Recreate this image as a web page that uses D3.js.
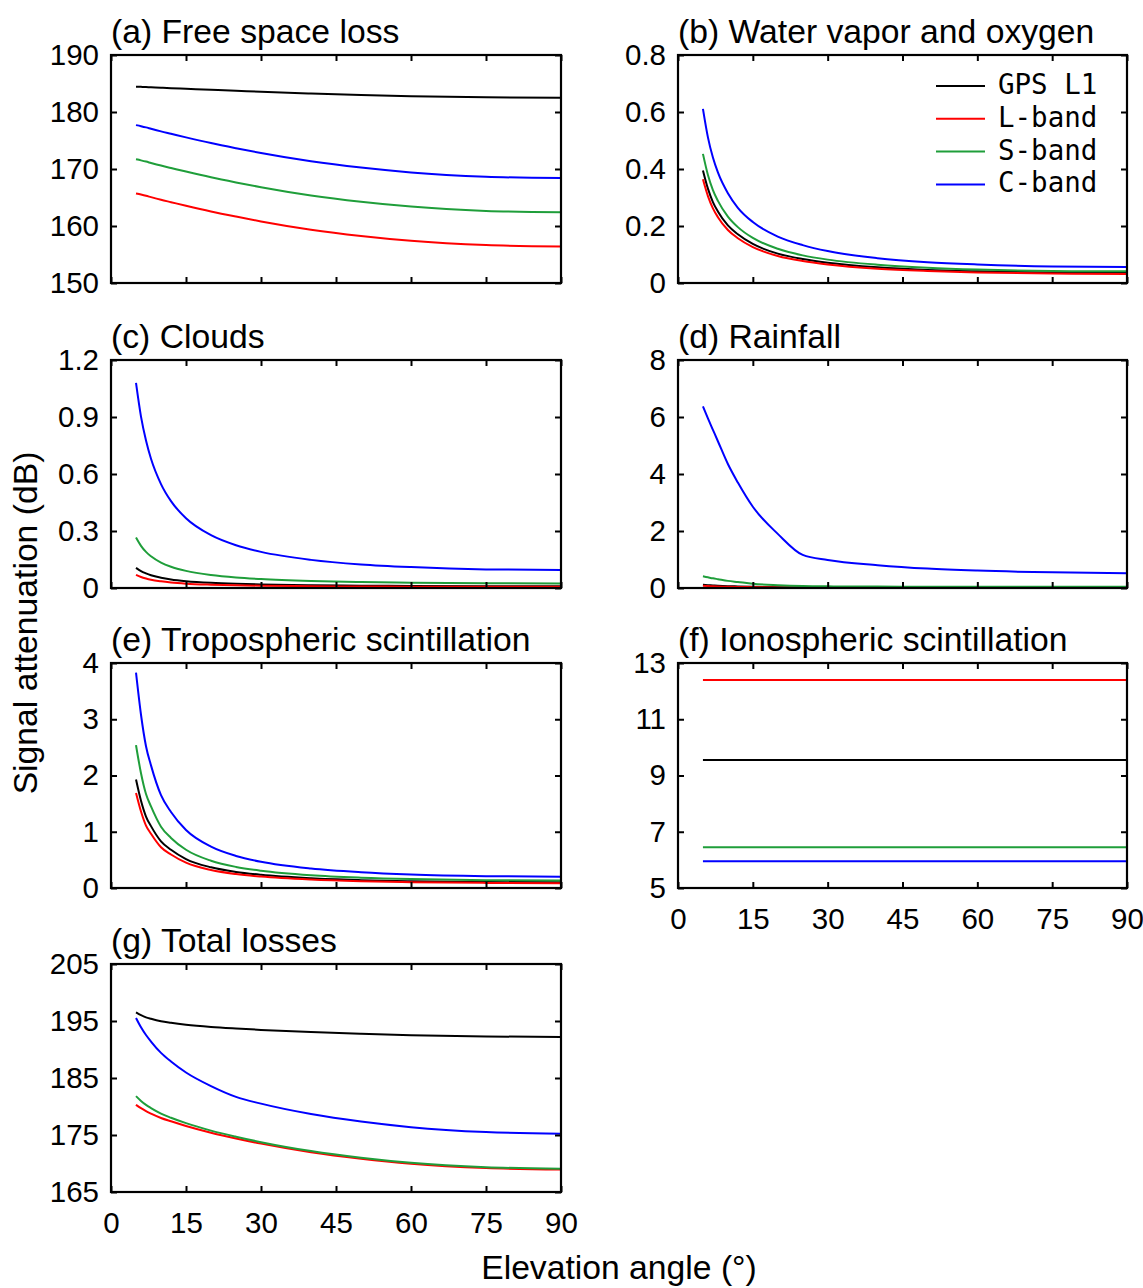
<!DOCTYPE html>
<html>
<head>
<meta charset="utf-8">
<script src="https://cdn.jsdelivr.net/npm/d3@7"></script>
<style>
  html, body { margin: 0; padding: 0; background: #fff; }
  svg { display: block; }
</style>
</head>
<body>
<script>
// ---------------- DATA ----------------
const seriesNames = ["GPS L1", "L-band", "S-band", "C-band"];
const elevation = [5, 6, 7, 8, 10, 12, 15, 20, 25, 30, 40, 50, 60, 75, 90];
const xTicks = [0, 15, 30, 45, 60, 75, 90];

// (a) Free space loss  [GPS L1, L-band, S-band, C-band]
const freeSpaceLoss = [
  [184.44, 184.41, 184.37, 184.33, 184.25, 184.18, 184.07, 183.89, 183.72, 183.55, 183.25, 182.99, 182.78, 182.57, 182.50],
  [165.70, 165.51, 165.30, 165.06, 164.60, 164.18, 163.55, 162.55, 161.65, 160.80, 159.35, 158.25, 157.40, 156.65, 156.40],
  [171.70, 171.51, 171.30, 171.06, 170.60, 170.18, 169.55, 168.55, 167.65, 166.80, 165.35, 164.25, 163.40, 162.65, 162.40],
  [177.70, 177.51, 177.30, 177.06, 176.60, 176.18, 175.55, 174.55, 173.65, 172.80, 171.35, 170.25, 169.40, 168.65, 168.40]
];
const yTicksA = [150, 160, 170, 180, 190];

// (b) Water vapor and oxygen
const waterVaporOxygen = [
  [0.395, 0.331, 0.284, 0.251, 0.202, 0.171, 0.137, 0.103, 0.084, 0.071, 0.055, 0.046, 0.041, 0.0365, 0.035],
  [0.364, 0.305, 0.262, 0.231, 0.186, 0.157, 0.126, 0.095, 0.077, 0.065, 0.050, 0.042, 0.037, 0.033, 0.032],
  [0.453, 0.379, 0.326, 0.288, 0.233, 0.196, 0.158, 0.120, 0.097, 0.082, 0.064, 0.0535, 0.047, 0.042, 0.041],
  [0.611, 0.511, 0.440, 0.388, 0.315, 0.264, 0.214, 0.163, 0.133, 0.112, 0.087, 0.073, 0.065, 0.058, 0.056]
];
const yTicksB = [0, 0.2, 0.4, 0.6, 0.8];

// (c) Clouds
const clouds = [
  [0.106, 0.089, 0.077, 0.067, 0.054, 0.045, 0.036, 0.027, 0.022, 0.019, 0.0146, 0.0123, 0.011, 0.0098, 0.0095],
  [0.069, 0.058, 0.050, 0.0435, 0.035, 0.029, 0.023, 0.0175, 0.014, 0.012, 0.0093, 0.0078, 0.0069, 0.0062, 0.006],
  [0.266, 0.222, 0.190, 0.167, 0.134, 0.112, 0.090, 0.068, 0.055, 0.047, 0.037, 0.031, 0.0275, 0.0248, 0.024],
  [1.080, 0.902, 0.776, 0.680, 0.547, 0.457, 0.367, 0.278, 0.225, 0.190, 0.148, 0.124, 0.110, 0.098, 0.095]
];
const yTicksC = [0, 0.3, 0.6, 0.9, 1.2];

// (d) Rainfall
const rainfall = [
  [0.110, 0.100, 0.090, 0.080, 0.065, 0.055, 0.040, 0.025, 0.018, 0.015, 0.012, 0.011, 0.010, 0.010, 0.010],
  [0.075, 0.068, 0.060, 0.053, 0.045, 0.038, 0.028, 0.018, 0.013, 0.011, 0.009, 0.008, 0.007, 0.007, 0.007],
  [0.410, 0.375, 0.340, 0.310, 0.250, 0.210, 0.150, 0.100, 0.070, 0.058, 0.050, 0.045, 0.042, 0.040, 0.040],
  [6.370, 5.950, 5.550, 5.150, 4.350, 3.700, 2.850, 1.900, 1.160, 0.980, 0.800, 0.680, 0.610, 0.550, 0.520]
];
const yTicksD = [0, 2, 4, 6, 8];

// (e) Tropospheric scintillation
const troposphericScint = [
  [1.93, 1.55, 1.27, 1.10, 0.830, 0.680, 0.515, 0.368, 0.286, 0.234, 0.173, 0.140, 0.120, 0.106, 0.101],
  [1.69, 1.36, 1.11, 0.965, 0.725, 0.595, 0.450, 0.320, 0.248, 0.203, 0.150, 0.121, 0.104, 0.091, 0.085],
  [2.54, 2.04, 1.67, 1.45, 1.090, 0.890, 0.680, 0.485, 0.375, 0.307, 0.227, 0.184, 0.158, 0.139, 0.133],
  [3.83, 3.08, 2.52, 2.18, 1.650, 1.350, 1.030, 0.735, 0.570, 0.465, 0.345, 0.280, 0.240, 0.210, 0.200]
];
const yTicksE = [0, 1, 2, 3, 4];

// (f) Ionospheric scintillation
const ionosphericScint = [
  [9.55, 9.55, 9.55, 9.55, 9.55, 9.55, 9.55, 9.55, 9.55, 9.55, 9.55, 9.55, 9.55, 9.55, 9.55],
  [12.40, 12.40, 12.40, 12.40, 12.40, 12.40, 12.40, 12.40, 12.40, 12.40, 12.40, 12.40, 12.40, 12.40, 12.40],
  [6.45, 6.45, 6.45, 6.45, 6.45, 6.45, 6.45, 6.45, 6.45, 6.45, 6.45, 6.45, 6.45, 6.45, 6.45],
  [5.95, 5.95, 5.95, 5.95, 5.95, 5.95, 5.95, 5.95, 5.95, 5.95, 5.95, 5.95, 5.95, 5.95, 5.95]
];
const yTicksF = [5, 7, 9, 11, 13];

// (g) Total losses
const totalLosses = [
  [196.53, 196.03, 195.64, 195.38, 194.95, 194.68, 194.35, 193.96, 193.68, 193.44, 193.05, 192.75, 192.51, 192.28, 192.21],
  [180.30, 179.70, 179.18, 178.75, 177.99, 177.40, 176.58, 175.40, 174.40, 173.49, 171.97, 170.83, 169.95, 169.19, 168.93],
  [181.82, 180.98, 180.28, 179.72, 178.76, 178.03, 177.08, 175.77, 174.70, 173.74, 172.18, 171.01, 170.12, 169.35, 169.09],
  [195.54, 193.90, 192.54, 191.40, 189.41, 187.89, 185.96, 183.58, 181.69, 180.50, 178.68, 177.36, 176.38, 175.52, 175.22]
];
const yTicksG = [165, 175, 185, 195, 205];

const panelTitles = [
  "(a) Free space loss", "(b) Water vapor and oxygen", "(c) Clouds", "(d) Rainfall",
  "(e) Tropospheric scintillation", "(f) Ionospheric scintillation", "(g) Total losses"
];

// ---------------- STYLE / LAYOUT ----------------
const colors = ["#000000", "#ff0000", "#1f9e3a", "#0000ff"];
const FONT = "'Liberation Sans', Arial, Helvetica, sans-serif";
const cols = [[111, 561], [678, 1127]];
const rows = [[55, 283], [360, 588], [663, 888], [964, 1192]];

const panels = [
  { title: panelTitles[0], data: freeSpaceLoss,      ticks: yTicksA, col: 0, row: 0, xl: false },
  { title: panelTitles[1], data: waterVaporOxygen,   ticks: yTicksB, col: 1, row: 0, xl: false, legend: true },
  { title: panelTitles[2], data: clouds,             ticks: yTicksC, col: 0, row: 1, xl: false },
  { title: panelTitles[3], data: rainfall,           ticks: yTicksD, col: 1, row: 1, xl: false },
  { title: panelTitles[4], data: troposphericScint,  ticks: yTicksE, col: 0, row: 2, xl: false },
  { title: panelTitles[5], data: ionosphericScint,   ticks: yTicksF, col: 1, row: 2, xl: true },
  { title: panelTitles[6], data: totalLosses,        ticks: yTicksG, col: 0, row: 3, xl: true }
];

const W = 1143, H = 1288;
const svg = d3.select("body").append("svg").attr("width", W).attr("height", H)
  .style("font-family", FONT);

panels.forEach(p => {
  const [x0, x1] = cols[p.col];
  const [y0, y1] = rows[p.row];
  const x = d3.scaleLinear().domain([0, 90]).range([x0, x1]);
  const y = d3.scaleLinear().domain([p.ticks[0], p.ticks[p.ticks.length - 1]]).range([y1, y0]);
  const g = svg.append("g");

  const line = d3.line().x((d, i) => x(elevation[i])).y(d => y(d)).curve(d3.curveMonotoneX);
  p.data.forEach((vals, si) => {
    g.append("path").attr("d", line(vals)).attr("fill", "none")
      .attr("stroke", colors[si]).attr("stroke-width", 2);
  });

  // axes (inward ticks on all four sides)
  const fmt = d3.format("");
  const left = g.append("g").attr("transform", `translate(${x0},0)`)
    .call(d3.axisLeft(y).tickValues(p.ticks).tickSize(-6).tickPadding(12).tickFormat(fmt));
  const right = g.append("g").attr("transform", `translate(${x1},0)`)
    .call(d3.axisRight(y).tickValues(p.ticks).tickSize(-6).tickFormat(""));
  const top = g.append("g").attr("transform", `translate(0,${y0})`)
    .call(d3.axisTop(x).tickValues(xTicks).tickSize(-6).tickFormat(""));
  const bottom = g.append("g").attr("transform", `translate(0,${y1})`)
    .call(d3.axisBottom(x).tickValues(xTicks).tickSize(-6).tickPadding(20)
      .tickFormat(p.xl ? fmt : ""));
  [left, right, top, bottom].forEach(a => {
    a.select(".domain").remove();
    a.selectAll(".tick line").attr("stroke", "#000").attr("stroke-width", 2);
    a.selectAll(".tick text").attr("font-size", 29.5).attr("font-family", FONT).attr("fill", "#000");
  });

  g.append("rect").attr("x", x0).attr("y", y0).attr("width", x1 - x0).attr("height", y1 - y0)
    .attr("fill", "none").attr("stroke", "#000").attr("stroke-width", 2.2);

  g.append("text").attr("x", x0).attr("y", y0 - 12).attr("font-size", 33.7)
    .attr("fill", "#000").text(p.title);

  if (p.legend) {
    const lg = g.append("g");
    seriesNames.forEach((n, i) => {
      const yy = 86 + i * 32.8;
      lg.append("line").attr("x1", 936).attr("x2", 985).attr("y1", yy).attr("y2", yy)
        .attr("stroke", colors[i]).attr("stroke-width", 2);
      lg.append("text").attr("x", 998).attr("y", yy + 8)
        .attr("font-family", "'DejaVu Sans Mono', monospace").attr("font-size", 27.5)
        .attr("fill", "#000").text(n);
    });
  }
});

svg.append("text").attr("x", 619).attr("y", 1279).attr("text-anchor", "middle")
  .attr("font-size", 33.7).attr("fill", "#000").text("Elevation angle (°)");
svg.append("text").attr("transform", "translate(37,623) rotate(-90)").attr("text-anchor", "middle")
  .attr("font-size", 33.7).attr("fill", "#000").text("Signal attenuation (dB)");
</script>
</body>
</html>
